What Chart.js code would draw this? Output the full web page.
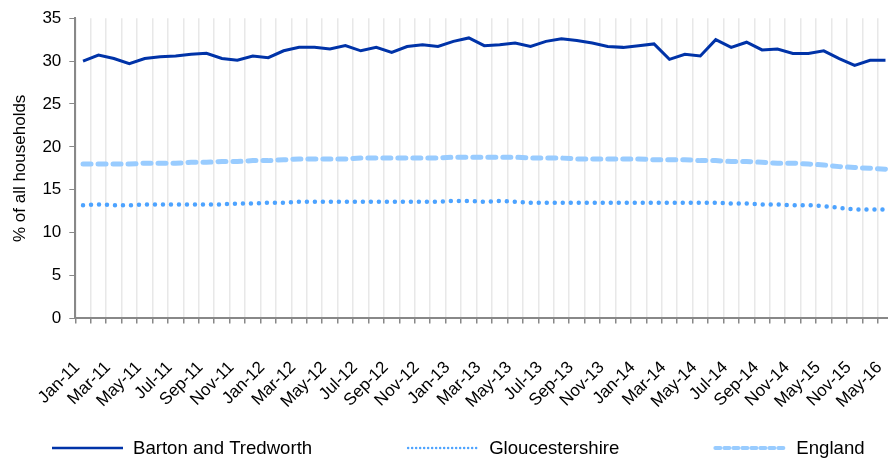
<!DOCTYPE html>
<html>
<head>
<meta charset="utf-8">
<script src="https://cdn.jsdelivr.net/npm/chart.js@4.4.1/dist/chart.umd.min.js"></script>
<style>
  html, body { margin: 0; padding: 0; background: #fff; overflow: hidden; }
  #frame { width: 888px; height: 460px; overflow: hidden; position: relative; }
  #wrap { width: 934px; height: 460px; position: absolute; left: 0; top: 0; }
</style>
</head>
<body>
<div id="frame"><div id="wrap"><canvas id="chart"></canvas></div></div>
<script>
const months = [
    'Jan-11', 'Feb-11', 'Mar-11', 'Apr-11', 'May-11', 'Jun-11', 'Jul-11', 'Aug-11', 'Sep-11', 'Oct-11', 'Nov-11', 'Dec-11',
    'Jan-12', 'Feb-12', 'Mar-12', 'Apr-12', 'May-12', 'Jun-12', 'Jul-12', 'Aug-12', 'Sep-12', 'Oct-12', 'Nov-12', 'Dec-12',
    'Jan-13', 'Feb-13', 'Mar-13', 'Apr-13', 'May-13', 'Jun-13', 'Jul-13', 'Aug-13', 'Sep-13', 'Oct-13', 'Nov-13', 'Dec-13',
    'Jan-14', 'Feb-14', 'Mar-14', 'Apr-14', 'May-14', 'Jun-14', 'Jul-14', 'Aug-14', 'Sep-14', 'Oct-14', 'Nov-14',
    'Feb-15', 'May-15', 'Aug-15', 'Nov-15', 'Feb-16', 'May-16'
];

const bartonValues = [
    30.0, 30.7, 30.3, 29.7, 30.3, 30.5, 30.6, 30.8, 30.9, 30.3,
    30.1, 30.6, 30.4, 31.2, 31.6, 31.6, 31.4, 31.8, 31.2, 31.6,
    31.0, 31.7, 31.9, 31.7, 32.3, 32.7, 31.8, 31.9, 32.1, 31.7,
    32.3, 32.6, 32.4, 32.1, 31.7, 31.6, 31.8, 32.0, 30.2, 30.8,
    30.6, 32.5, 31.6, 32.2, 31.3, 31.4, 30.9, 30.9, 31.2, 30.3,
    29.5, 30.1, 30.1
];

const gloucsValues = [
    13.2, 13.3, 13.2, 13.2, 13.3, 13.3, 13.3, 13.3, 13.3, 13.3,
    13.4, 13.4, 13.5, 13.5, 13.6, 13.6, 13.6, 13.6, 13.6, 13.6,
    13.6, 13.6, 13.6, 13.6, 13.7, 13.7, 13.6, 13.7, 13.6, 13.5,
    13.5, 13.5, 13.5, 13.5, 13.5, 13.5, 13.5, 13.5, 13.5, 13.5,
    13.5, 13.5, 13.4, 13.4, 13.3, 13.3, 13.2, 13.2, 13.1, 12.9,
    12.7, 12.7, 12.7
];

const englandValues = [
    18.0, 18.0, 18.0, 18.0, 18.1, 18.1, 18.1, 18.2, 18.2, 18.3,
    18.3, 18.4, 18.4, 18.5, 18.6, 18.6, 18.6, 18.6, 18.7, 18.7,
    18.7, 18.7, 18.7, 18.7, 18.8, 18.8, 18.8, 18.8, 18.8, 18.7,
    18.7, 18.7, 18.6, 18.6, 18.6, 18.6, 18.6, 18.5, 18.5, 18.5,
    18.4, 18.4, 18.3, 18.3, 18.2, 18.1, 18.1, 18.0, 17.9, 17.7,
    17.6, 17.5, 17.4
];

const yTicks = [0, 5, 10, 15, 20, 25, 30, 35];

const FONT = '"Liberation Sans", Arial, sans-serif';

// legend drawn by hand: the items are spaced far apart, like the original
const bottomLegend = {
    id: 'bottomLegend',
    afterDraw(chart) {
        const ctx = chart.ctx;
        const y = 448;
        let x = 52;
        ctx.save();
        ctx.font = '18.6px ' + FONT;
        ctx.textBaseline = 'middle';
        chart.data.datasets.forEach(ds => {
            ctx.beginPath();
            ctx.setLineDash(ds.legendDash || []);
            ctx.lineCap = ds.borderCapStyle || 'butt';
            ctx.lineWidth = ds.legendWidth;
            ctx.strokeStyle = ds.borderColor;
            ctx.moveTo(x, y);
            ctx.lineTo(x + 71, y);
            ctx.stroke();
            ctx.setLineDash([]);
            ctx.fillStyle = '#000';
            ctx.fillText(ds.label, x + 81, y + 1);
            x += 81 + ctx.measureText(ds.label).width + 96;
        });
        ctx.restore();
    }
};

new Chart(document.getElementById('chart'), {
    type: 'line',
    data: {
        labels: months,
        datasets: [{
            label: 'Barton and Tredworth',
            data: bartonValues,
            borderColor: '#0033a8',
            borderWidth: 3,
            legendWidth: 2.5,
            pointRadius: 0,
            tension: 0
        }, {
            label: 'Gloucestershire',
            data: gloucsValues,
            borderColor: '#4da3ff',
            borderWidth: 4.5,
            borderDash: [0, 8],
            borderCapStyle: 'round',
            legendWidth: 2.5,
            legendDash: [0, 4],
            pointRadius: 0,
            tension: 0
        }, {
            label: 'England',
            data: englandValues,
            borderColor: '#99ccff',
            borderWidth: 5,
            borderDash: [8, 7],
            borderCapStyle: 'round',
            legendWidth: 4,
            legendDash: [5, 4],
            pointRadius: 0,
            tension: 0
        }]
    },
    options: {
        responsive: true,
        maintainAspectRatio: false,
        animation: false,
        layout: {
            padding: { top: -6, right: 9, bottom: 14, left: 10 }
        },
        plugins: {
            legend: { display: false },
            tooltip: { enabled: false }
        },
        scales: {
            x: {
                offset: true,
                grid: {
                    offset: true,
                    color: '#e8e8e8',
                    lineWidth: 1.5,
                    tickColor: '#888',
                    tickLength: 5
                },
                border: { color: '#888', width: 2 },
                ticks: {
                    autoSkip: false,
                    maxRotation: 45,
                    minRotation: 45,
                    padding: 34,
                    labelOffset: -6,
                    color: '#000',
                    font: { family: FONT, size: 17 },
                    callback: (value, index) => index % 2 === 0 ? months[index] : ''
                }
            },
            y: {
                min: 0,
                max: 35,
                afterBuildTicks: axis => { axis.ticks = yTicks.map(v => ({ value: v })); },
                grid: {
                    drawOnChartArea: false,
                    tickColor: '#888',
                    tickLength: 6
                },
                border: { color: '#888', width: 2 },
                ticks: {
                    padding: 8,
                    color: '#000',
                    font: { family: FONT, size: 17 }
                },
                title: {
                    display: true,
                    text: '% of all households',
                    color: '#000',
                    font: { family: FONT, size: 17 },
                    padding: { top: 0, bottom: 4 }
                }
            }
        }
    },
    plugins: [bottomLegend]
});
</script>
</body>
</html>
